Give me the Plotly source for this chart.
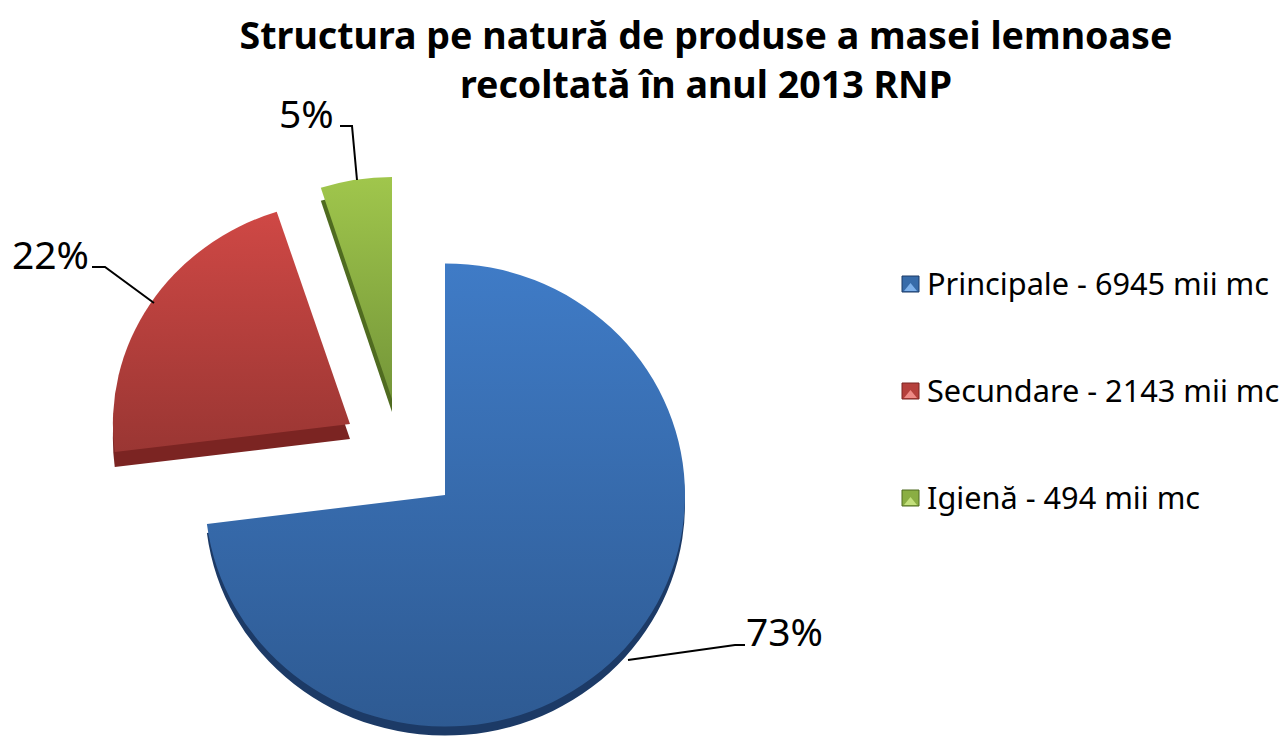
import json
import plotly.graph_objects as go

W, H = 1284, 737
FONT = "Noto Sans"

# Data
categories = ["Principale", "Secundare", "Igienă"]
volumes = [6945, 2143, 494]
shares = [73, 22, 5]
share_labels = ["73%", "22%", "5%"]
legend_labels = [f"{c} - {v} mii mc" for c, v in zip(categories, volumes)]

# Styling
top_colors = ["#3f7bc6", "#cf4845", "#a0c64c"]
bottom_colors = ["#2e5a92", "#9a3633", "#749639"]
side_colors = ["#1c3a66", "#7b2422", "#4f6b20"]
mid_colors = ["#376ba9", "#b5403c", "#8aae43"]
tri_colors = ["#7db0ea", "#ee8a86", "#c3e07c"]

# Layout of the exploded slices (pixels)
apex = [(445, 495), (350, 424), (392, 399)]
radius = 240
squash_x = [1.0, 0.988, 0.96]
squash_y = [0.965, 0.93, 0.925]
depth = [9, 15, 13]
grad_span = [(267, 730), (212, 452), (177, 400)]

label_pos = [(784, 630), (50, 253), (306, 113)]
leaders = [
    [(628, 660), (735, 645), (745, 645)],
    [(92, 267), (105, 267), (154, 303)],
    [(340, 126), (352, 126), (357, 180)],
]
legend_y = [283, 390, 497]
legend_swatch_x = (902, 919)
legend_text_x = 925


def px(x):
    return x / W


def py(y):
    return 1 - y / H


def slice_trace(i, color):
    cx, cy = apex[i]
    colors = ["rgba(0,0,0,0)"] * len(shares)
    colors[i] = color
    return go.Pie(
        labels=categories,
        values=shares,
        sort=False,
        direction="clockwise",
        rotation=0,
        textinfo="none",
        hoverinfo="label+percent",
        showlegend=False,
        marker=dict(colors=colors, line=dict(width=0)),
        domain=dict(
            x=[px(cx - radius), px(cx + radius)],
            y=[py(cy + radius), py(cy - radius)],
        ),
    )


fig = go.Figure()
for i in range(3):
    fig.add_trace(slice_trace(i, side_colors[i]))
for i in range(3):
    fig.add_trace(slice_trace(i, mid_colors[i]))

shapes = []
annotations = []
for pts in leaders:
    path = "M " + " L ".join(f"{px(x)} {py(y)}" for x, y in pts)
    shapes.append(dict(type="path", xref="paper", yref="paper", path=path,
                       line=dict(color="#000000", width=2)))
for (x, y), t in zip(label_pos, share_labels):
    annotations.append(dict(x=px(x), y=py(y), xref="paper", yref="paper", text=t,
                            showarrow=False, xanchor="center", yanchor="middle",
                            font=dict(family=FONT, size=39, color="#000000")))
x0, x1 = legend_swatch_x
for i, (y, t) in enumerate(zip(legend_y, legend_labels)):
    yc = y + 1
    shapes.append(dict(type="rect", xref="paper", yref="paper",
                       x0=px(x0), x1=px(x1), y0=py(yc - 8), y1=py(yc + 8),
                       fillcolor=mid_colors[i], line=dict(color=side_colors[i], width=1)))
    tri = f"M {px(x0 + 2)} {py(yc + 7)} L {px((x0 + x1) / 2)} {py(yc - 1)} L {px(x1 - 2)} {py(yc + 7)} Z"
    shapes.append(dict(type="path", xref="paper", yref="paper", path=tri,
                       fillcolor=tri_colors[i], line=dict(width=0)))
    annotations.append(dict(x=px(legend_text_x), y=py(y), xref="paper", yref="paper", text=t,
                            showarrow=False, xanchor="left", yanchor="middle",
                            font=dict(family=FONT, size=30.7, color="#000000")))

fig.update_layout(
    width=W, height=H, autosize=False,
    margin=dict(l=0, r=0, t=0, b=0),
    paper_bgcolor="#ffffff",
    showlegend=False,
    title=dict(
        text="Structura pe natură de produse a masei lemnoase<br>recoltată în anul 2013 RNP",
        x=706 / W, xanchor="center", y=py(49), yanchor="top",
        font=dict(family=FONT, size=37.6, color="#000000", weight="bold"),
    ),
    shapes=shapes,
    annotations=annotations,
)

spec = dict(apex=apex, sx=squash_x, sy=squash_y, depth=depth, span=grad_span,
            top=top_colors, bottom=bottom_colors)
post = """
document.body.style.margin = '0';
document.body.style.overflow = 'hidden';
(function () {
  var gd = document.getElementById('{plot_id}');
  var S = %s;
  function apply() {
    var svg = gd.querySelector('svg.main-svg');
    var NS = 'http://www.w3.org/2000/svg';
    var defs = svg.querySelector('defs');
    var tr = gd.querySelectorAll('.pielayer .trace');
    tr.forEach(function (g, k) {
      var i = k %% 3, isTop = k >= 3;
      var a = S.apex[i];
      var dy = isTop ? 0 : S.depth[i];
      g.setAttribute('transform', 'translate(' + a[0] + ',' + (a[1] + dy) + ') scale(' + S.sx[i] + ',' + S.sy[i] + ') translate(' + (-a[0]) + ',' + (-a[1]) + ')');
      if (isTop) {
        var id = 'slicegrad' + i;
        if (!document.getElementById(id)) {
          var lg = document.createElementNS(NS, 'linearGradient');
          lg.setAttribute('id', id);
          lg.setAttribute('gradientUnits', 'userSpaceOnUse');
          lg.setAttribute('x1', '0'); lg.setAttribute('x2', '0');
          var sp = S.span[i];
          lg.setAttribute('y1', a[1] + (sp[0] - a[1]) / S.sy[i]);
          lg.setAttribute('y2', a[1] + (sp[1] - a[1]) / S.sy[i]);
          [[0, S.top[i]], [1, S.bottom[i]]].forEach(function (s) {
            var st = document.createElementNS(NS, 'stop');
            st.setAttribute('offset', s[0]);
            st.setAttribute('stop-color', s[1]);
            lg.appendChild(st);
          });
          defs.appendChild(lg);
        }
        var p = g.querySelectorAll('.slice path.surface')[i];
        if (p) p.style.fill = 'url(#' + id + ')';
      }
    });
  }
  apply();
  gd.on('plotly_afterplot', apply);
})();
""" % json.dumps(spec)

fig.write_html("out.html", post_script=post, config=dict(displayModeBar=False))
